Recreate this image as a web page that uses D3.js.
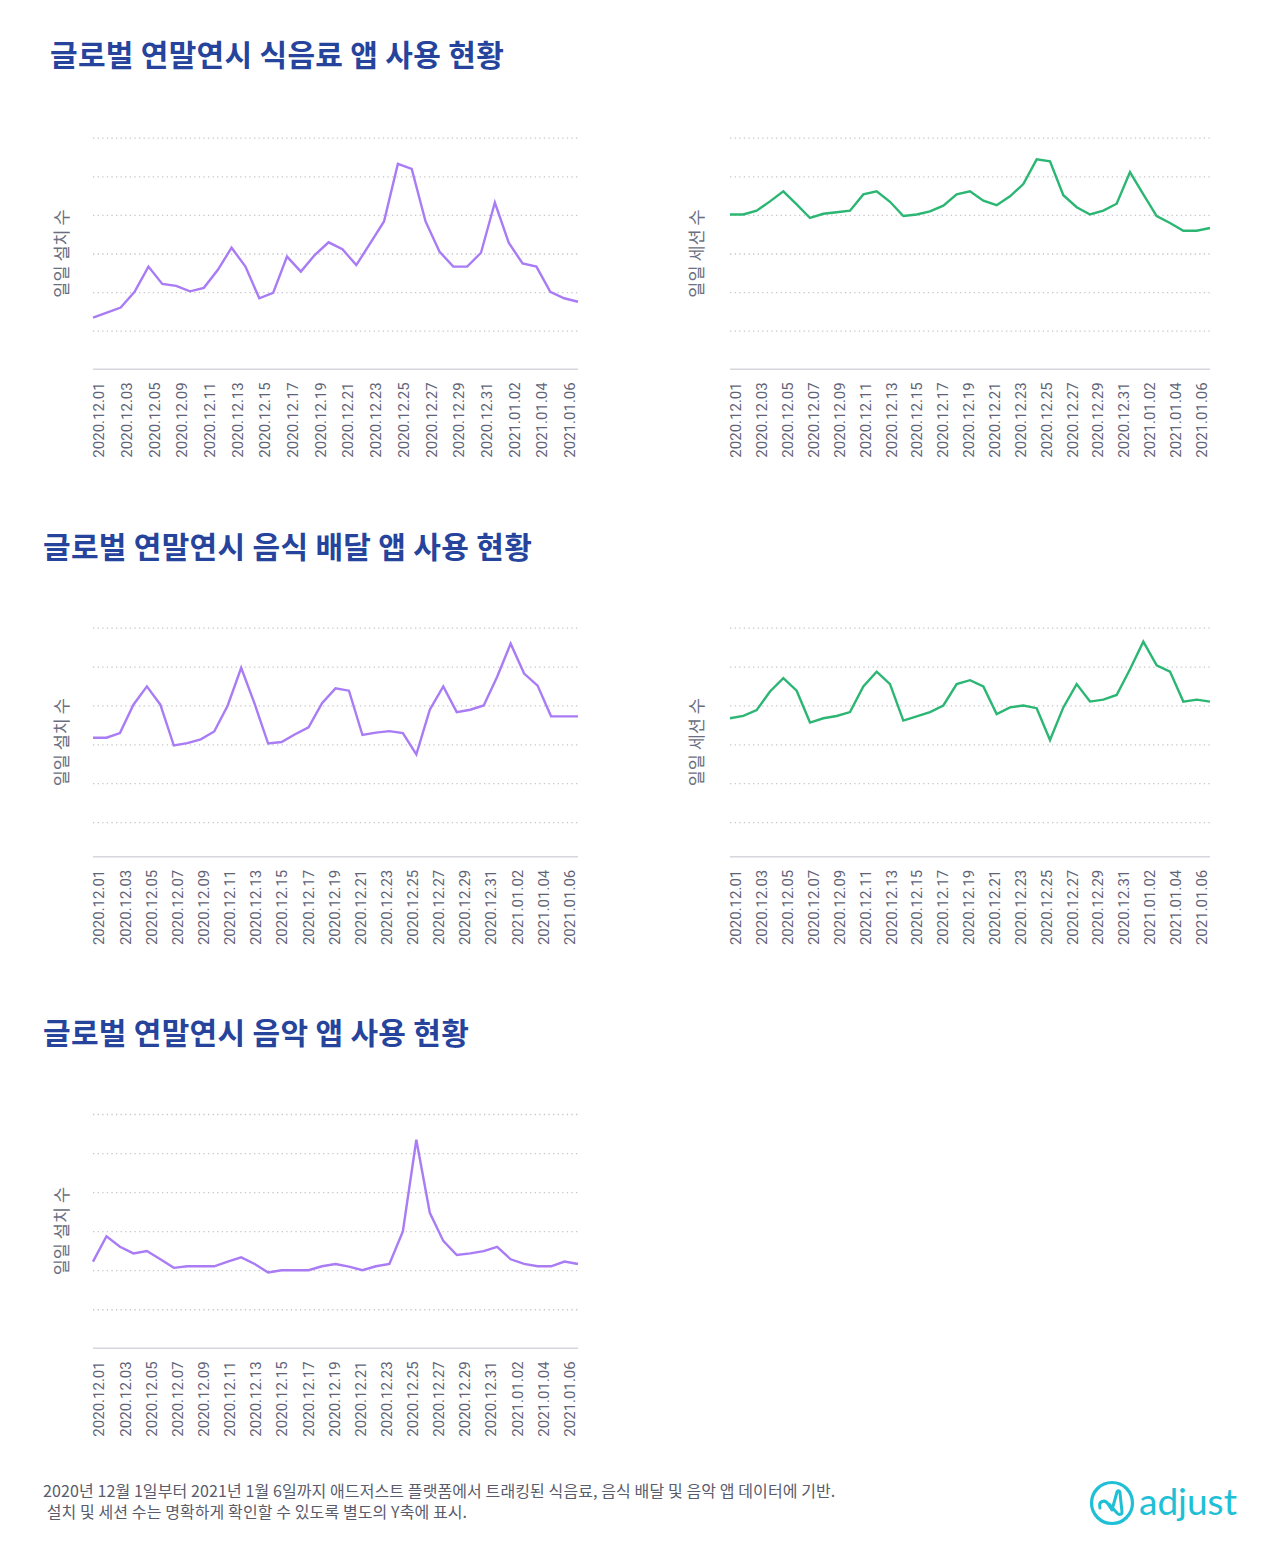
<!DOCTYPE html>
<html><head><meta charset="utf-8">
<script src="https://cdn.jsdelivr.net/npm/d3@7"></script>
<style>body{margin:0;background:#fff}svg{display:block}</style>
</head><body>
<svg id="c" width="1280" height="1557"></svg>
<script>
// ---------- DATA ----------
const datesAll = ["2020.12.01","2020.12.02","2020.12.03","2020.12.04","2020.12.05","2020.12.06","2020.12.07","2020.12.08","2020.12.09","2020.12.10",
  "2020.12.11","2020.12.12","2020.12.13","2020.12.14","2020.12.15","2020.12.16","2020.12.17","2020.12.18","2020.12.19","2020.12.20",
  "2020.12.21","2020.12.22","2020.12.23","2020.12.24","2020.12.25","2020.12.26","2020.12.27","2020.12.28","2020.12.29","2020.12.30",
  "2020.12.31","2021.01.01","2021.01.02","2021.01.03","2021.01.04","2021.01.05","2021.01.06"];
const datesFoodInstalls = ["2020.12.01","2020.12.02","2020.12.03","2020.12.04","2020.12.05","2020.12.06","2020.12.08","2020.12.09","2020.12.10",
  "2020.12.11","2020.12.12","2020.12.13","2020.12.14","2020.12.15","2020.12.16","2020.12.17","2020.12.18","2020.12.19","2020.12.20",
  "2020.12.21","2020.12.22","2020.12.23","2020.12.24","2020.12.25","2020.12.26","2020.12.27","2020.12.28","2020.12.29","2020.12.30",
  "2020.12.31","2021.01.01","2021.01.02","2021.01.03","2021.01.04","2021.01.05","2021.01.06"];
const ticksAll = ["2020.12.01","2020.12.03","2020.12.05","2020.12.07","2020.12.09","2020.12.11","2020.12.13","2020.12.15","2020.12.17",
  "2020.12.19","2020.12.21","2020.12.23","2020.12.25","2020.12.27","2020.12.29","2020.12.31","2021.01.02","2021.01.04","2021.01.06"];
const ticksFoodInstalls = ["2020.12.01","2020.12.03","2020.12.05","2020.12.09","2020.12.11","2020.12.13","2020.12.15","2020.12.17",
  "2020.12.19","2020.12.21","2020.12.23","2020.12.25","2020.12.27","2020.12.29","2020.12.31","2021.01.02","2021.01.04","2021.01.06"];

// relative (unlabelled) daily values, in gridline units
const foodInstalls = [1.34,1.47,1.60,2.01,2.66,2.21,2.16,2.02,2.11,2.57,3.15,2.66,1.84,1.98,2.92,2.53,2.96,3.29,3.11,2.70,3.26,3.83,5.32,5.19,3.83,3.05,2.66,2.66,3.02,4.32,3.28,2.74,2.66,2.01,1.84,1.75];
const foodSessions = [4.01,4.01,4.11,4.35,4.61,4.27,3.92,4.03,4.07,4.11,4.53,4.61,4.34,3.97,4.01,4.09,4.24,4.53,4.61,4.37,4.25,4.48,4.80,5.44,5.39,4.51,4.20,4.01,4.11,4.29,5.11,4.53,3.97,3.79,3.59,3.59,3.66];
const deliveryInstalls = [3.17,3.17,3.29,4.02,4.49,4.02,2.97,3.03,3.13,3.33,4.00,4.97,4.04,3.02,3.06,3.26,3.44,4.06,4.44,4.38,3.24,3.30,3.34,3.29,2.74,3.89,4.49,3.83,3.89,4.00,4.74,5.59,4.82,4.51,3.72,3.72,3.72];
const deliverySessions = [3.67,3.73,3.88,4.36,4.70,4.38,3.56,3.67,3.73,3.83,4.49,4.87,4.55,3.61,3.72,3.83,4.00,4.55,4.65,4.49,3.78,3.95,4.00,3.93,3.11,3.95,4.55,4.10,4.15,4.27,4.93,5.64,5.03,4.87,4.10,4.15,4.10];
const musicInstalls = [2.22,2.87,2.60,2.43,2.49,2.28,2.06,2.10,2.10,2.10,2.22,2.33,2.16,1.94,2.00,2.00,2.00,2.10,2.16,2.09,2.00,2.10,2.16,2.99,5.34,3.47,2.75,2.39,2.43,2.49,2.60,2.28,2.16,2.10,2.10,2.22,2.16];

const gridValues = [1,2,3,4,5,6];
const titles = ["글로벌 연말연시 식음료 앱 사용 현황","글로벌 연말연시 음식 배달 앱 사용 현황","글로벌 연말연시 음악 앱 사용 현황"];
const yTitleInstalls = "일일 설치 수";
const yTitleSessions = "일일 세션 수";
const footnotes = ["2020년 12월 1일부터 2021년 1월 6일까지 애드저스트 플랫폼에서 트래킹된 식음료, 음식 배달 및 음악 앱 데이터에 기반.",
  " 설치 및 세션 수는 명확하게 확인할 수 있도록 별도의 Y축에 표시."];

// ---------- DRAW ----------
const svg = d3.select("#c");
svg.append("rect").attr("width",1280).attr("height",1557).attr("fill","#fff");

const PURPLE = "#a97bf4", GREEN = "#2bb673";
const TITLE_C = "#26449c";

function drawChart(c) {
  const g = svg.append("g");
  const x = d3.scalePoint().domain(c.dates).range([c.x0, c.x1]);
  const y = d3.scaleLinear().domain([c.yMin, 6]).range([c.axisY, c.top]);

  // dotted gridlines
  g.append("g").attr("transform", `translate(${c.x0},0)`)
    .call(d3.axisLeft(y).tickValues(gridValues).tickSize(-(c.x1 - c.x0)).tickFormat(""))
    .call(a => a.select(".domain").remove())
    .call(a => a.selectAll(".tick line").attr("stroke", "#c6c6cc").attr("stroke-width", 1.3)
      .attr("stroke-dasharray", "1.3,3.3"));

  // x axis baseline
  g.append("line").attr("x1", x.range()[0]).attr("x2", x.range()[1])
    .attr("y1", c.axisY).attr("y2", c.axisY).attr("stroke", "#d6d6de").attr("stroke-width", 1.6);

  // x tick labels
  const xl = d3.scalePoint().domain(c.ticks).range([c.x0 + 5.5, c.x1 - 9]);
  const ax = g.append("g").attr("transform", `translate(0,${c.axisY})`)
    .call(d3.axisBottom(xl).tickSize(0));
  ax.select(".domain").remove();
  ax.selectAll(".tick text")
    .attr("transform", "rotate(-90)").attr("text-anchor", "end")
    .attr("x", -13).attr("y", 0).attr("dy", "0.36em")
    .attr("fill", "#5f6377").attr("font-size", 15).attr("font-family", "Roboto, 'Liberation Sans', sans-serif");

  // y axis title
  g.append("text").attr("transform", `translate(${c.labelX},${(c.top + c.axisY) / 2}) rotate(-90)`)
    .attr("text-anchor", "middle").attr("dy", "0.36em")
    .attr("font-family", "'Noto Sans CJK KR', sans-serif").attr("font-size", 17.5).attr("fill", "#6a6e80")
    .text(c.yTitle);

  // line
  const line = d3.line().x((d, i) => x(c.dates[i])).y(d => y(d));
  g.append("path").datum(c.values).attr("d", line).attr("fill", "none")
    .attr("stroke", c.color).attr("stroke-width", 2.4).attr("stroke-linejoin", "miter");
}

// Titles
const titlePos = [[50, 66], [43, 558], [43, 1044]];
titles.forEach((t, i) => {
  svg.append("text").attr("x", titlePos[i][0]).attr("y", titlePos[i][1])
    .attr("font-family", "'Noto Sans CJK KR', sans-serif").attr("font-weight", 700)
    .attr("font-size", 30).attr("letter-spacing", 0.3).attr("fill", TITLE_C).text(t);
});

const L = {x0: 93, x1: 578, labelX: 62}, R = {x0: 730, x1: 1210, labelX: 697};
drawChart({...L, top: 137.7, axisY: 369.3, yMin: 0, dates: datesFoodInstalls, ticks: ticksFoodInstalls, values: foodInstalls, color: PURPLE, yTitle: yTitleInstalls});
drawChart({...R, top: 137.7, axisY: 369.3, yMin: 0, dates: datesAll, ticks: ticksAll, values: foodSessions, color: GREEN, yTitle: yTitleSessions});
drawChart({...L, top: 627.7, axisY: 856.7, yMin: 0.11, dates: datesAll, ticks: ticksAll, values: deliveryInstalls, color: PURPLE, yTitle: yTitleInstalls});
drawChart({...R, top: 627.7, axisY: 856.7, yMin: 0.11, dates: datesAll, ticks: ticksAll, values: deliverySessions, color: GREEN, yTitle: yTitleSessions});
drawChart({...L, top: 1114, axisY: 1348.3, yMin: 0, dates: datesAll, ticks: ticksAll, values: musicInstalls, color: PURPLE, yTitle: yTitleInstalls});

// Footnotes
footnotes.forEach((t, i) => {
  svg.append("text").attr("x", 43).attr("y", 1497 + i * 21)
    .attr("font-family", "'Noto Sans CJK KR', sans-serif").attr("font-size", 16).attr("letter-spacing", 0.1)
    .attr("fill", "#585c6c").attr("xml:space", "preserve").style("white-space", "pre").text(t);
});

// adjust logo
const CYAN = "#1fbfd5";
const logo = svg.append("g").attr("transform", "translate(1112,1503)");
logo.append("circle").attr("r", 20.5).attr("fill", "none").attr("stroke", CYAN).attr("stroke-width", 3.2);
logo.append("path")
  .attr("d", "M -12 5 C -14 -2, -7 -4, -4 1 L 0 7 L 5 -11 C 6 -13, 8 -12, 8 -10 L 10 9 C 10 12, 7 12, 5 10 L -3 1")
  .attr("fill", "none").attr("stroke", CYAN).attr("stroke-width", 3).attr("stroke-linejoin", "round").attr("stroke-linecap", "round");
svg.append("text").attr("x", 1139).attr("y", 1515)
  .attr("font-family", "Lato, 'Open Sans', sans-serif").attr("font-weight", 400).attr("font-size", 37)
  .attr("fill", CYAN).text("adjust");
</script>
</body></html>
